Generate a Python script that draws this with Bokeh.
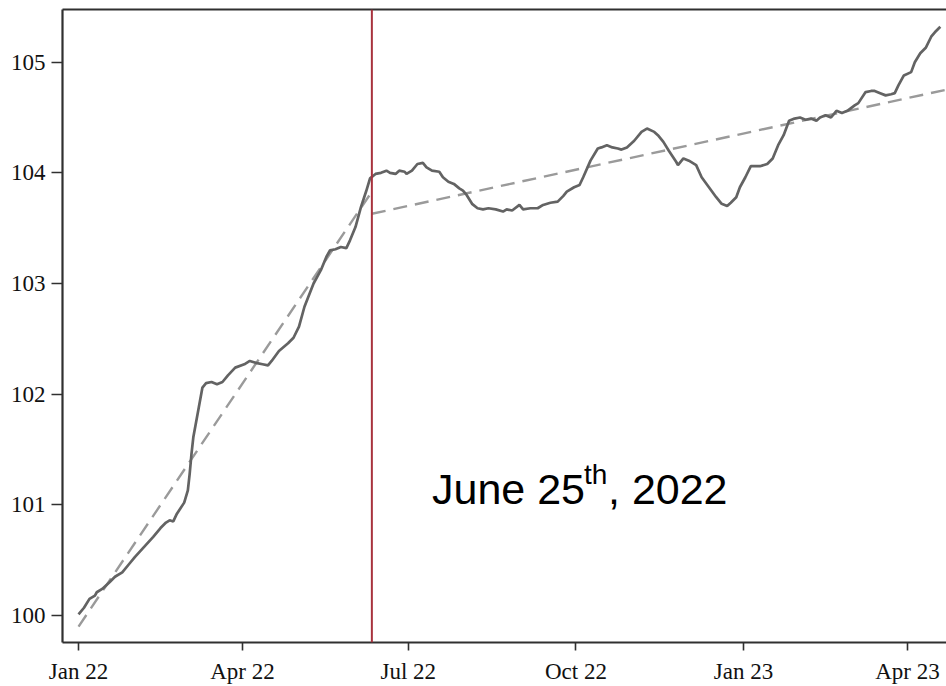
import pandas as pd
from bokeh.plotting import figure
from bokeh.models import (FixedTicker, DatetimeTickFormatter, Span, Label,
                          LinearAxis, Range1d)
from bokeh.embed import file_html
from bokeh.resources import INLINE

# Index series (start = 100), sampled every few days
start_date = "2022-01-15"
days = [0, 3, 6, 9, 10, 13, 17, 20, 24, 28,
        31, 36, 41, 45, 48, 50, 52, 54, 58, 60,
        61, 62, 63, 66, 68, 70, 73, 76, 79, 82,
        86, 91, 94, 98, 101, 104, 106, 110, 115, 118,
        121, 124, 129, 133, 136, 138, 141, 144, 147, 149,
        152, 155, 158, 160, 163, 166, 169, 171, 174, 176,
        179, 180, 183, 186, 189, 191, 194, 198, 200, 203,
        206, 209, 211, 213, 216, 219, 222, 225, 229, 233,
        235, 238, 242, 244, 248, 252, 255, 259, 263, 266,
        268, 272, 275, 277, 281, 285, 287, 290, 293, 296,
        298, 301, 305, 309, 312, 316, 318, 321, 324, 328,
        329, 332, 335, 339, 342, 346, 350, 353, 356, 358,
        361, 363, 366, 369, 372, 374, 378, 381, 384, 387,
        390, 393, 396, 399, 402, 405, 407, 410, 413, 416,
        419, 422, 426, 428, 432, 435, 437, 440, 443, 446,
        448, 450, 453, 457, 459, 462, 465, 468, 470, 473]
index_values = [100.01, 100.07, 100.15, 100.18, 100.21, 100.24, 100.30, 100.35, 100.39, 100.47,
                100.53, 100.62, 100.71, 100.79, 100.84, 100.86, 100.85, 100.92, 101.02, 101.13,
                101.28, 101.46, 101.61, 101.88, 102.06, 102.10, 102.11, 102.09, 102.11, 102.17,
                102.24, 102.27, 102.30, 102.28, 102.27, 102.26, 102.30, 102.39, 102.46, 102.51,
                102.61, 102.79, 103.00, 103.12, 103.24, 103.30, 103.31, 103.33, 103.32, 103.39,
                103.51, 103.69, 103.84, 103.95, 103.99, 104.00, 104.02, 104.00, 103.99, 104.02,
                104.01, 103.99, 104.02, 104.08, 104.09, 104.05, 104.02, 104.01, 103.96, 103.92,
                103.90, 103.86, 103.84, 103.80, 103.72, 103.68, 103.67, 103.68, 103.67, 103.65,
                103.67, 103.66, 103.71, 103.67, 103.68, 103.68, 103.71, 103.73, 103.74, 103.79,
                103.83, 103.87, 103.89, 103.96, 104.11, 104.22, 104.23, 104.25, 104.23, 104.22,
                104.21, 104.23, 104.29, 104.37, 104.40, 104.37, 104.34, 104.28, 104.20, 104.10,
                104.07, 104.13, 104.11, 104.07, 103.96, 103.87, 103.78, 103.72, 103.70, 103.73,
                103.78, 103.87, 103.96, 104.06, 104.06, 104.06, 104.08, 104.13, 104.25, 104.34,
                104.47, 104.49, 104.50, 104.48, 104.49, 104.47, 104.50, 104.52, 104.50, 104.56,
                104.54, 104.56, 104.61, 104.63, 104.73, 104.74, 104.74, 104.72, 104.70, 104.71,
                104.72, 104.79, 104.88, 104.91, 105.00, 105.08, 105.13, 105.23, 105.27, 105.32]

# Linear trends fitted before and after the event
trend_pre_days = [0, 161]
trend_pre_values = [99.90, 103.83]
trend_post_days = [161, 476]
trend_post_values = [103.63, 104.75]

event_date = "2022-06-25"
event_text = ["June 25", "th", ", 2022"]

tick_dates = ["2022-01-15", "2022-04-15", "2022-07-15",
              "2022-10-15", "2023-01-15", "2023-04-15"]
y_ticks = [100, 101, 102, 103, 104, 105]


def ms(ts):
    return pd.Timestamp(ts).value / 1e6


t0 = pd.Timestamp(start_date)
dates = [t0 + pd.Timedelta(days=d) for d in days]
pre_dates = [t0 + pd.Timedelta(days=d) for d in trend_pre_days]
post_dates = [t0 + pd.Timedelta(days=d) for d in trend_post_days]

x_start = ms(t0 - pd.Timedelta(days=8.8))
x_end = ms(t0 + pd.Timedelta(days=476.4))

p = figure(width=946, height=686, x_axis_type="datetime",
           x_range=Range1d(x_start, x_end), y_range=Range1d(99.756, 105.476),
           output_backend="svg", toolbar_location=None,
           min_border_left=62, min_border_right=0,
           min_border_top=9, min_border_bottom=44)
p.outline_line_color = None
p.xgrid.grid_line_color = None
p.ygrid.grid_line_color = None
p.background_fill_color = "white"
p.border_fill_color = "white"

# trend lines
p.line(pre_dates, trend_pre_values, line_color="#9a9a9a", line_width=2.4,
       line_dash="14 8")
p.line(post_dates, trend_post_values, line_color="#9a9a9a", line_width=2.4,
       line_dash="14 8")

# index
p.line(dates, index_values, line_color="#636363", line_width=2.7)

# event marker
p.add_layout(Span(location=ms(event_date), dimension="height",
                  line_color="#a8323e", line_width=2))

label_x = ms(t0 + pd.Timedelta(days=194))
label_y = 101.14
font = "Liberation Sans"
p.add_layout(Label(x=label_x, y=label_y, text=event_text[0], text_font=font,
                   text_font_size="43px", text_color="black",
                   text_baseline="alphabetic"))
p.add_layout(Label(x=label_x, y=label_y, text=event_text[1], text_font=font,
                   text_font_size="28px", text_color="black",
                   x_offset=152, y_offset=15, text_baseline="alphabetic"))
p.add_layout(Label(x=label_x, y=label_y, text=event_text[2], text_font=font,
                   text_font_size="43px", text_color="black",
                   x_offset=176, text_baseline="alphabetic"))

# axes
for ax in (p.xaxis[0], p.yaxis[0]):
    ax.axis_line_width = 2.2
    ax.axis_line_color = "#303030"
    ax.major_tick_line_color = "#303030"
    ax.major_tick_line_width = 1.6
    ax.major_tick_in = 0
    ax.minor_tick_line_color = None
    ax.major_label_text_font = "Liberation Serif"
    ax.major_label_text_font_size = "23px"
    ax.major_label_text_color = "#111111"

p.xaxis[0].ticker = FixedTicker(ticks=[ms(t) for t in tick_dates])
p.xaxis[0].formatter = DatetimeTickFormatter(
    milliseconds="%b %y", seconds="%b %y", minsec="%b %y", minutes="%b %y",
    hourmin="%b %y", hours="%b %y", days="%b %y", months="%b %y", years="%b %y")
p.xaxis[0].major_tick_out = 8
p.xaxis[0].major_label_standoff = 8

p.yaxis[0].ticker = FixedTicker(ticks=y_ticks)
p.yaxis[0].major_tick_out = 11
p.yaxis[0].major_label_standoff = 6

# top frame line
top = LinearAxis(ticker=FixedTicker(ticks=[]), axis_line_width=2.2,
                 axis_line_color="#303030", major_tick_line_color=None,
                 minor_tick_line_color=None, major_label_text_font_size="0px")
p.add_layout(top, "above")

open("out.html", "w").write(file_html(p, INLINE))
